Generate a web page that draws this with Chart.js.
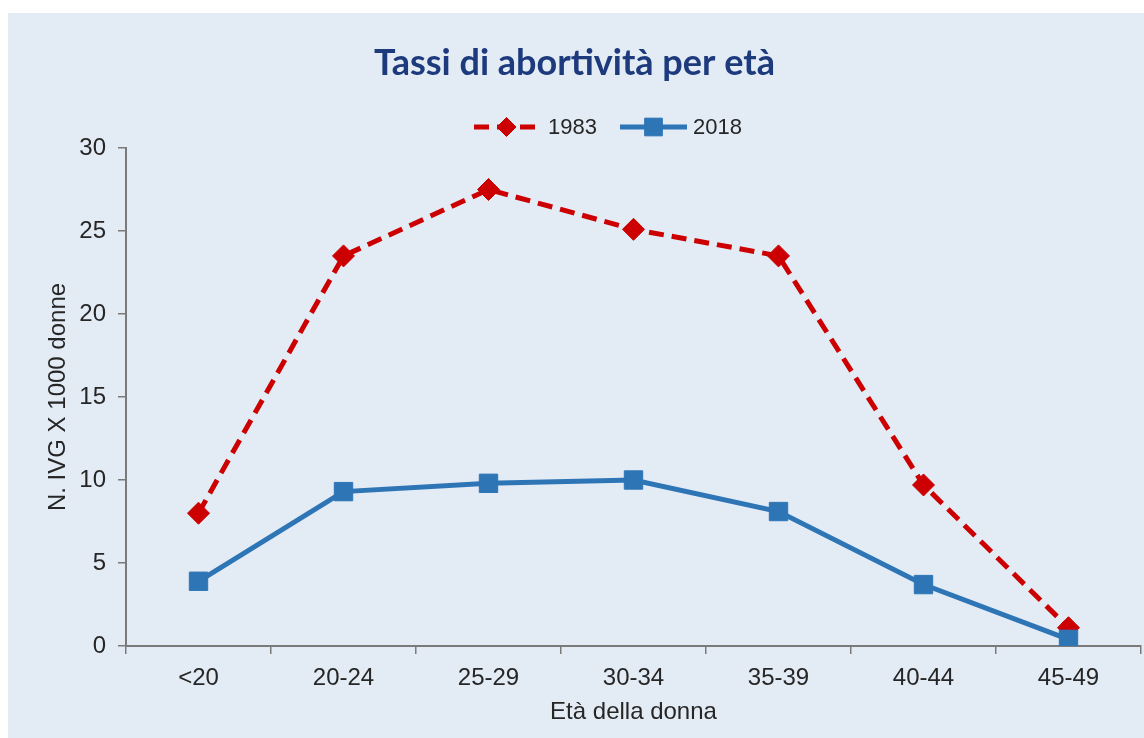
<!DOCTYPE html>
<html>
<head>
<meta charset="utf-8">
<script src="https://cdn.jsdelivr.net/npm/chart.js@4.4.1/dist/chart.umd.min.js"></script>
<style>
  html, body { margin: 0; padding: 0; background: #ffffff; }
  #wrap { width: 1144px; height: 738px; position: relative; }
</style>
</head>
<body>
<div id="wrap"><canvas id="c" width="1144" height="738"></canvas></div>
<script>
const categories = ['<20', '20-24', '25-29', '30-34', '35-39', '40-44', '45-49'];
const values1983 = [8.0, 23.5, 27.5, 25.1, 23.5, 9.7, 1.1];
const values2018 = [3.9, 9.3, 9.8, 10.0, 8.1, 3.7, 0.4];
const seriesLabels = ['1983', '2018'];
const yTicks = [0, 5, 10, 15, 20, 25, 30];
const chartTitle = 'Tassi di abortività per età';
const yTitle = 'N. IVG X 1000 donne';
const xTitle = 'Età della donna';

const RED = '#cc0000';
const BLUE = '#2e75b6';
const AXIS = '#7a7a7a';
const TEXT = '#262626';
const FONT = "'Liberation Sans', Arial, sans-serif";

const bgPlugin = {
  id: 'bgPlugin',
  beforeDraw(chart) {
    const ctx = chart.ctx;
    ctx.save();
    ctx.fillStyle = '#e3ebf5';
    ctx.fillRect(8, 13, chart.width - 8, chart.height - 13);
    ctx.restore();
  }
};

const legendPlugin = {
  id: 'customLegend',
  afterDraw(chart) {
    const ctx = chart.ctx;
    const ds = chart.data.datasets;
    const y = 127;
    const items = [
      { x0: 474, x1: 539, tx: 548, d: ds[0] },
      { x0: 620, x1: 687, tx: 693, d: ds[1] }
    ];
    ctx.save();
    items.forEach(it => {
      ctx.beginPath();
      ctx.strokeStyle = it.d.borderColor;
      ctx.lineWidth = it.d.borderWidth;
      ctx.setLineDash(it.d.borderDash || []);
      ctx.moveTo(it.x0, y);
      ctx.lineTo(it.x1, y);
      ctx.stroke();
      ctx.setLineDash([]);
      ctx.fillStyle = it.d.pointBackgroundColor;
      ctx.strokeStyle = it.d.pointBorderColor;
      ctx.lineWidth = 1;
      Chart.helpers.drawPoint(ctx, {
        pointStyle: it.d.pointStyle,
        radius: it.d.pointStyle === 'rect' ? 12.5 : 9.5,
        borderWidth: 1
      }, (it.x0 + it.x1) / 2, y);
      ctx.fillStyle = TEXT;
      ctx.font = "22px " + FONT;
      ctx.textBaseline = 'middle';
      ctx.textAlign = 'left';
      ctx.fillText(it.d.label, it.tx, y + 1);
    });
    ctx.restore();
  }
};

new Chart(document.getElementById('c'), {
  type: 'line',
  data: {
    labels: categories,
    datasets: [
      {
        label: seriesLabels[0],
        data: values1983,
        borderColor: RED,
        backgroundColor: RED,
        borderWidth: 5,
        borderDash: [15, 8],
        pointStyle: 'rectRot',
        pointRadius: 11,
        pointBorderWidth: 1,
        pointBackgroundColor: RED,
        pointBorderColor: RED,
        tension: 0,
        order: 1
      },
      {
        label: seriesLabels[1],
        data: values2018,
        borderColor: BLUE,
        backgroundColor: BLUE,
        borderWidth: 5,
        pointStyle: 'rect',
        pointRadius: 13,
        pointBorderWidth: 1,
        pointBackgroundColor: BLUE,
        pointBorderColor: BLUE,
        tension: 0,
        order: 0
      }
    ]
  },
  options: {
    responsive: false,
    animation: false,
    events: [],
    layout: { autoPadding: false, padding: { left: 8, right: 3, top: 0, bottom: 0 } },
    plugins: {
      legend: { display: false },
      tooltip: { enabled: false },
      title: {
        display: true,
        text: chartTitle,
        color: '#1c3a7c',
        font: { family: "Lato, 'Open Sans', sans-serif", size: 36, weight: 'bold', lineHeight: 1.2 },
        padding: { top: 42, bottom: 62.8 }
      }
    },
    scales: {
      x: {
        type: 'category',
        offset: true,
        afterFit(s) { s.height = 92; s.paddingLeft = 0; s.paddingRight = 0; },
        grid: {
          offset: true,
          drawOnChartArea: false,
          drawTicks: true,
          tickLength: 8,
          color: AXIS,
          lineWidth: 1.5
        },
        border: { display: true, color: AXIS, width: 2 },
        ticks: {
          color: TEXT,
          font: { family: FONT, size: 24 },
          padding: 10,
          maxRotation: 0,
          autoSkip: false
        },
        title: {
          display: true,
          text: xTitle,
          color: TEXT,
          font: { family: FONT, size: 24, lineHeight: 1.2 },
          padding: { top: 0, bottom: 11 }
        }
      },
      y: {
        min: 0,
        max: 30,
        afterFit(s) { s.width = 118; },
        afterBuildTicks(s) { s.ticks = yTicks.map(v => ({ value: v })); },
        grid: {
          drawOnChartArea: false,
          drawTicks: true,
          tickLength: 8,
          color: AXIS,
          lineWidth: 1.5
        },
        border: { display: true, color: AXIS, width: 2 },
        ticks: {
          color: TEXT,
          font: { family: FONT, size: 24 },
          padding: 12
        },
        title: {
          display: true,
          text: yTitle,
          color: TEXT,
          font: { family: FONT, size: 24, lineHeight: 1.2 },
          padding: { top: 36, bottom: 0 }
        }
      }
    }
  },
  plugins: [bgPlugin, legendPlugin]
});
</script>
</body>
</html>
